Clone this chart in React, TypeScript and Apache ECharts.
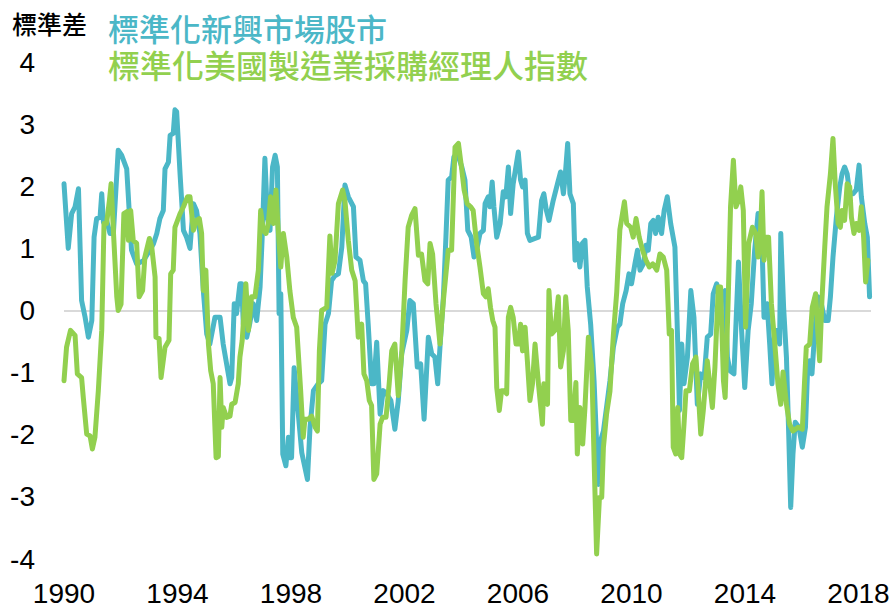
import React, { useEffect, useRef } from "react";
import * as echarts from "echarts";

const FONT = '"Noto Sans CJK TC", "Noto Sans", sans-serif';
const NUM_FONT = '"Liberation Sans", Arial, sans-serif';

const axisTitle = "標準差";
const emName = "標準化新興市場股市";
const pmiName = "標準化美國製造業採購經理人指數";

const xTickLabels = [1990, 1994, 1998, 2002, 2006, 2010, 2014, 2018];
const yMin = -4;
const yMax = 4;

// [year, standardised value]
const emSeries: [number, number][] = [
  [1990.0, 2.04], [1990.15, 1.0], [1990.27, 1.56], [1990.39, 1.67], [1990.51, 1.96], [1990.62, 0.16],
  [1990.74, -0.1], [1990.86, -0.43], [1990.98, -0.16], [1991.06, 1.18], [1991.15, 1.48], [1991.27, 1.5],
  [1991.33, 1.88], [1991.39, 1.42], [1991.5, 1.45], [1991.62, 1.24], [1991.74, 1.24], [1991.91, 2.58],
  [1992.03, 2.5], [1992.21, 2.28], [1992.38, 0.97], [1992.56, 0.75], [1992.8, 0.8], [1993.15, 1.07],
  [1993.27, 1.24], [1993.38, 1.48], [1993.5, 1.61], [1993.56, 2.28], [1993.68, 2.39], [1993.74, 2.82],
  [1993.85, 2.85], [1993.91, 3.23], [1993.97, 3.2], [1994.09, 2.2], [1994.21, 1.29], [1994.32, 1.18],
  [1994.44, 1.0], [1994.56, 1.72], [1994.67, 1.61], [1994.79, 1.24], [1994.91, 0.32], [1995.03, -0.38],
  [1995.14, -0.54], [1995.32, -0.11], [1995.5, -0.11], [1995.61, -0.54], [1995.73, -0.86], [1995.85, -1.18],
  [1995.91, -1.08], [1996.0, 0.11], [1996.08, -0.05], [1996.2, 0.43], [1996.26, 0.43], [1996.32, -0.22],
  [1996.44, -0.43], [1996.55, -0.2], [1996.67, 0.11], [1996.79, -0.16], [1996.91, 0.38], [1996.99, 1.24],
  [1997.08, 2.45], [1997.17, 1.5], [1997.26, 1.29], [1997.35, 2.31], [1997.44, 2.5], [1997.52, 2.31],
  [1997.58, -0.05], [1997.64, 0.27], [1997.71, -2.31], [1997.82, -2.5], [1997.91, -2.04], [1997.96, -2.37],
  [1998.02, -2.37], [1998.11, -0.92], [1998.38, -2.29], [1998.58, -2.72], [1998.67, -1.88], [1998.79, -1.29],
  [1998.96, -1.18], [1999.08, -1.13], [1999.2, -0.22], [1999.32, -0.05], [1999.43, 0.48], [1999.55, 0.56],
  [1999.67, 0.59], [1999.79, 1.02], [1999.9, 2.02], [2000.02, 1.83], [2000.2, 1.67], [2000.29, 0.86],
  [2000.43, 0.81], [2000.55, 0.48], [2000.63, 0.43], [2000.72, -0.22], [2000.84, -1.18], [2000.92, -1.18],
  [2001.02, -0.51], [2001.14, -1.67], [2001.25, -1.29], [2001.37, -1.34], [2001.52, -1.45], [2001.66, -1.91],
  [2001.78, -1.45], [2001.9, -0.7], [2002.08, -0.32], [2002.19, 0.16], [2002.31, 0.11], [2002.45, -0.91],
  [2002.57, -0.86], [2002.69, -1.75], [2002.84, -0.43], [2002.96, -0.7], [2003.07, -0.75], [2003.17, -1.18],
  [2003.25, -0.59], [2003.37, 0.22], [2003.46, 1.18], [2003.54, 2.1], [2003.66, 2.15], [2003.74, 2.47],
  [2003.86, 2.53], [2004.02, 2.31], [2004.13, 2.1], [2004.23, 1.29], [2004.35, 1.18], [2004.45, 0.86],
  [2004.54, 0.97], [2004.66, 1.24], [2004.78, 1.29], [2004.84, 1.72], [2004.95, 1.83], [2005.01, 1.67],
  [2005.09, 2.07], [2005.15, 1.67], [2005.25, 1.18], [2005.37, 1.4], [2005.48, 1.91], [2005.57, 1.83],
  [2005.66, 2.31], [2005.74, 1.56], [2005.83, 2.04], [2006.01, 2.55], [2006.09, 2.1], [2006.16, 1.99],
  [2006.25, 2.1], [2006.33, 1.24], [2006.42, 1.13], [2006.6, 1.16], [2006.72, 1.18], [2006.83, 1.77],
  [2006.91, 1.88], [2007.0, 1.61], [2007.09, 1.45], [2007.24, 1.77], [2007.39, 2.04], [2007.5, 2.23],
  [2007.6, 1.88], [2007.66, 2.15], [2007.75, 2.69], [2007.83, 1.88], [2007.95, 1.72], [2008.01, 0.81],
  [2008.09, 1.08], [2008.18, 0.7], [2008.27, 1.08], [2008.36, 1.13], [2008.44, 0.38], [2008.56, -0.22],
  [2008.68, -1.13], [2008.83, -2.8], [2008.91, -2.1], [2009.01, -1.94], [2009.12, -1.56], [2009.24, -1.13],
  [2009.36, -0.59], [2009.5, -0.27], [2009.59, -0.22], [2009.69, 0.11], [2009.81, 0.32], [2009.91, 0.59],
  [2010.0, 0.43], [2010.12, 0.75], [2010.21, 0.97], [2010.3, 0.65], [2010.42, 0.75], [2010.51, 1.05],
  [2010.59, 0.97], [2010.68, 1.4], [2010.77, 1.45], [2010.85, 1.24], [2010.94, 1.5], [2011.06, 1.24],
  [2011.15, 1.61], [2011.26, 1.83], [2011.38, 1.4], [2011.53, 1.02], [2011.63, -0.54], [2011.69, -1.61],
  [2011.77, -0.54], [2011.85, -1.18], [2011.97, -0.75], [2012.09, 0.32], [2012.2, -0.11], [2012.32, -1.51],
  [2012.44, -1.02], [2012.56, -1.08], [2012.67, -0.43], [2012.79, -0.38], [2012.88, 0.27], [2013.0, 0.43],
  [2013.15, 0.22], [2013.3, 0.32], [2013.38, -0.75], [2013.47, -0.97], [2013.61, -1.02], [2013.77, 0.78],
  [2013.88, -0.32], [2013.99, -1.24], [2014.11, -0.32], [2014.22, 0.11], [2014.34, 0.97], [2014.46, 1.56],
  [2014.58, 1.4], [2014.67, -0.11], [2014.78, 0.11], [2014.87, -0.54], [2014.95, -1.18], [2015.05, -0.32],
  [2015.15, -0.32], [2015.22, -0.54], [2015.26, 1.24], [2015.36, 0.05], [2015.46, -0.75], [2015.54, -1.99],
  [2015.61, -3.17], [2015.69, -2.31], [2015.77, -1.8], [2015.9, -1.88], [2016.02, -2.2], [2016.13, -1.88],
  [2016.2, -1.02], [2016.28, -0.81], [2016.36, -1.02], [2016.46, -0.32], [2016.57, 0.22], [2016.69, 0.11],
  [2016.81, -0.16], [2016.93, -0.16], [2017.01, 0.22], [2017.1, 0.86], [2017.22, 1.5], [2017.34, 1.99],
  [2017.42, 2.2], [2017.51, 2.31], [2017.6, 2.2], [2017.69, 1.88], [2017.81, 1.88], [2017.92, 1.94],
  [2018.02, 2.34], [2018.1, 1.83], [2018.22, 1.4], [2018.31, 1.18], [2018.39, 0.22],
];

const pmiSeries: [number, number][] = [
  [1990.0, -1.13], [1990.09, -0.59], [1990.23, -0.32], [1990.39, -0.4], [1990.47, -1.02], [1990.62, -1.08],
  [1990.68, -1.4], [1990.8, -1.99], [1990.92, -2.02], [1991.0, -2.23], [1991.09, -2.04], [1991.21, -1.29],
  [1991.33, -0.32], [1991.41, 1.4], [1991.5, 1.4], [1991.6, 1.77], [1991.66, 2.04], [1991.74, 1.29],
  [1991.86, 0.22], [1991.91, 0.0], [1992.01, 0.1], [1992.11, 1.56], [1992.21, 1.59], [1992.27, 1.13],
  [1992.35, 1.61], [1992.44, 1.13], [1992.56, 1.08], [1992.65, 0.22], [1992.77, 0.32], [1992.85, 0.86],
  [1993.01, 1.16], [1993.09, 1.03], [1993.21, 0.54], [1993.24, -0.43], [1993.35, -0.45], [1993.42, -1.08],
  [1993.56, -0.59], [1993.7, -0.48], [1993.76, 0.59], [1993.85, 0.65], [1993.91, 1.34], [1994.09, 1.56],
  [1994.21, 1.67], [1994.35, 1.83], [1994.44, 1.83], [1994.56, 1.29], [1994.67, 1.45], [1994.77, 1.48],
  [1994.85, 1.24], [1994.91, 0.32], [1995.0, 0.65], [1995.09, -0.54], [1995.17, -0.97], [1995.26, -1.18],
  [1995.36, -2.37], [1995.44, -2.35], [1995.5, -1.08], [1995.56, -1.88], [1995.61, -1.56], [1995.73, -1.72],
  [1995.85, -1.7], [1995.91, -1.51], [1996.03, -1.48], [1996.14, -1.18], [1996.2, -0.75], [1996.28, -0.48],
  [1996.41, 0.43], [1996.5, -0.32], [1996.61, 0.22], [1996.73, 0.22], [1996.85, 0.65], [1996.93, 1.61],
  [1997.02, 1.29], [1997.12, 1.24], [1997.2, 1.4], [1997.28, 1.83], [1997.38, 1.4], [1997.47, 1.94],
  [1997.55, 1.29], [1997.64, 0.7], [1997.73, 1.24], [1997.85, 0.86], [1997.96, 0.32], [1998.08, -0.11],
  [1998.2, -0.27], [1998.34, -1.29], [1998.43, -2.04], [1998.49, -1.75], [1998.61, -1.75], [1998.73, -1.7],
  [1998.85, -1.88], [1998.93, -1.94], [1999.0, -0.65], [1999.08, 0.0], [1999.26, 0.05], [1999.37, 1.2],
  [1999.45, 0.6], [1999.55, 0.8], [1999.67, 1.72], [1999.82, 1.94], [1999.9, 1.77], [2000.02, 1.13],
  [2000.14, 0.65], [2000.26, 0.48], [2000.37, -0.43], [2000.49, -0.22], [2000.57, -1.02], [2000.67, -1.13],
  [2000.76, -1.45], [2000.84, -1.53], [2000.92, -2.72], [2001.02, -2.63], [2001.14, -1.83], [2001.23, -1.72],
  [2001.35, -1.72], [2001.46, -1.18], [2001.55, -0.65], [2001.66, -0.54], [2001.78, -1.37], [2001.9, -0.7],
  [2002.02, 0.48], [2002.13, 1.34], [2002.25, 1.53], [2002.37, 1.64], [2002.49, 0.89], [2002.6, 0.91],
  [2002.72, 0.48], [2002.82, 0.43], [2002.9, 1.08], [2002.99, 0.91], [2003.11, 0.11], [2003.25, -0.54],
  [2003.37, 0.16], [2003.54, 0.97], [2003.66, 0.97], [2003.78, 2.63], [2003.9, 2.69], [2004.02, 2.26],
  [2004.1, 1.94], [2004.21, 1.72], [2004.33, 1.67], [2004.42, 1.61], [2004.54, 1.08], [2004.66, 0.7],
  [2004.78, 0.27], [2004.87, 0.22], [2004.95, 0.35], [2005.03, 0.05], [2005.11, -0.16], [2005.19, -0.27],
  [2005.25, -1.24], [2005.34, -1.61], [2005.42, -1.29], [2005.51, -1.29], [2005.6, -1.34], [2005.66, -0.11],
  [2005.74, 0.05], [2005.83, -0.11], [2005.93, -0.54], [2006.01, -0.54], [2006.09, -0.22], [2006.16, -0.65],
  [2006.25, -0.27], [2006.33, -0.81], [2006.42, -1.45], [2006.51, -1.18], [2006.6, -0.54], [2006.72, -1.18],
  [2006.86, -1.83], [2006.91, -1.18], [2006.98, -1.45], [2007.04, -1.51], [2007.09, 0.32], [2007.18, -0.38],
  [2007.3, -0.32], [2007.42, 0.22], [2007.5, -0.91], [2007.6, -0.65], [2007.68, 0.22], [2007.77, -0.32],
  [2007.86, -1.77], [2007.95, -1.77], [2008.04, -1.16], [2008.09, -2.31], [2008.18, -1.56], [2008.28, -2.15],
  [2008.36, -1.56], [2008.48, -0.43], [2008.6, -0.91], [2008.68, -2.37], [2008.77, -3.92], [2008.87, -3.01],
  [2008.95, -3.01], [2009.01, -2.2], [2009.12, -1.67], [2009.24, -1.3], [2009.36, -0.4], [2009.48, 0.3],
  [2009.59, 1.3], [2009.75, 1.75], [2009.83, 1.4], [2009.97, 1.34], [2010.06, 1.18], [2010.16, 1.48],
  [2010.27, 1.18], [2010.39, 0.97], [2010.51, 0.81], [2010.63, 0.7], [2010.75, 0.75], [2010.89, 0.65],
  [2011.0, 0.91], [2011.12, 0.86], [2011.24, 0.65], [2011.33, -0.38], [2011.41, -0.32], [2011.47, -2.2],
  [2011.56, -2.31], [2011.63, -1.56], [2011.69, -2.31], [2011.77, -2.37], [2011.85, -1.83], [2011.92, -1.29],
  [2012.04, -1.29], [2012.15, -0.86], [2012.27, -0.75], [2012.35, -1.29], [2012.44, -1.99], [2012.53, -1.61],
  [2012.67, -0.81], [2012.77, -1.24], [2012.85, -1.56], [2012.94, -0.91], [2013.06, 0.38], [2013.14, 0.38],
  [2013.24, -1.13], [2013.3, -1.4], [2013.41, 0.22], [2013.49, 1.67], [2013.59, 2.42], [2013.68, 1.67],
  [2013.77, 1.77], [2013.85, 1.99], [2013.94, 1.61], [2014.02, -0.27], [2014.13, 1.08], [2014.26, 1.34],
  [2014.38, 1.24], [2014.46, 0.86], [2014.52, 0.97], [2014.6, 1.91], [2014.67, 0.81], [2014.75, 1.18],
  [2014.83, 1.18], [2014.93, 0.11], [2015.05, -0.54], [2015.16, -1.18], [2015.26, -1.51], [2015.34, -0.99],
  [2015.46, -1.51], [2015.57, -1.83], [2015.69, -1.94], [2015.87, -1.88], [2016.02, -1.91], [2016.1, -1.13],
  [2016.16, -0.59], [2016.28, -0.54], [2016.37, 0.05], [2016.49, 0.27], [2016.57, -0.38], [2016.63, -0.81],
  [2016.71, 0.16], [2016.81, 1.02], [2016.89, 1.67], [2017.01, 2.2], [2017.1, 2.77], [2017.18, 2.04],
  [2017.28, 1.4], [2017.36, 1.34], [2017.42, 1.61], [2017.51, 1.45], [2017.6, 2.04], [2017.69, 1.99],
  [2017.75, 1.5], [2017.84, 1.24], [2017.92, 1.4], [2018.02, 1.29], [2018.1, 1.67], [2018.18, 1.18],
  [2018.25, 0.46], [2018.33, 0.81],
];

const TEAL = "#4bb7c7";
const GREEN = "#92d04f";

export default function App() {
  const ref = useRef<HTMLDivElement>(null);

  useEffect(() => {
    if (!ref.current) return;
    const chart = echarts.init(ref.current, undefined, { renderer: "svg" });
    chart.setOption({
      animation: false,
      backgroundColor: "#ffffff",
      textStyle: { fontFamily: FONT },
      grid: { left: 64, right: 22, top: 62, bottom: 50, containLabel: false },
      xAxis: {
        type: "value",
        min: 1990,
        max: 2018.44,
        axisLine: { show: false },
        axisTick: { show: false },
        splitLine: { show: false },
        axisLabel: {
          customValues: xTickLabels,
          formatter: (v: number) => String(v),
          fontSize: 28,
          lineHeight: 28,
          color: "#000",
          fontFamily: NUM_FONT,
          margin: 20,
        },
      },
      yAxis: {
        type: "value",
        min: yMin,
        max: yMax,
        interval: 1,
        axisLine: { show: false },
        axisTick: { show: false },
        splitLine: { show: false },
        axisLabel: {
          fontSize: 28,
          lineHeight: 28,
          color: "#000",
          fontFamily: NUM_FONT,
          align: "right",
          margin: 29,
        },
      },
      graphic: [
        {
          type: "text",
          left: 12,
          top: 10,
          style: { text: axisTitle, font: `500 25px ${FONT}`, lineHeight: 25, fill: "#000" },
        },
        {
          type: "text",
          left: 108,
          top: 12,
          style: {
            text: `{a|${emName}}\n{b|${pmiName}}`,
            rich: {
              a: { fontFamily: FONT, fontSize: 31, fontWeight: 500, lineHeight: 37, fill: TEAL, color: TEAL },
              b: { fontFamily: FONT, fontSize: 32, fontWeight: 500, lineHeight: 37, fill: GREEN, color: GREEN },
            },
          },
        },
      ],
      series: [
        {
          name: emName,
          type: "line",
          data: emSeries,
          showSymbol: false,
          symbol: "none",
          z: 3,
          lineStyle: { color: TEAL, width: 5, join: "round", cap: "round" },
          markLine: {
            silent: true,
            z: 1,
            symbol: "none",
            label: { show: false },
            lineStyle: { color: "#d9d9d9", width: 2, type: "solid" },
            data: [{ yAxis: 0 }],
          },
        },
        {
          name: pmiName,
          type: "line",
          data: pmiSeries,
          showSymbol: false,
          symbol: "none",
          z: 4,
          lineStyle: { color: GREEN, width: 5, join: "round", cap: "round" },
        },
      ],
    });
    return () => chart.dispose();
  }, []);

  return (
    <div
      ref={ref}
      style={{ position: "fixed", left: 0, top: 0, width: 893, height: 609, background: "#fff" }}
    />
  );
}
